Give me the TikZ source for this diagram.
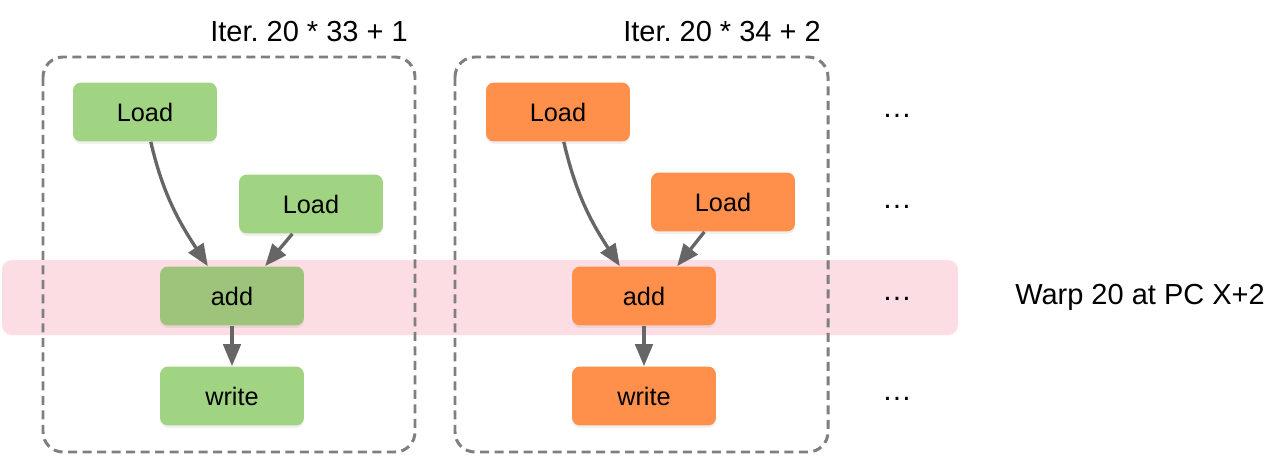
\documentclass[tikz,border=0pt]{standalone}
\usepackage{fontspec}
\setmainfont{Liberation Sans}
\usetikzlibrary{arrows.meta, positioning, shadows}
\definecolor{opgreen}{HTML}{A0D483}
\definecolor{addgreen}{HTML}{9DC47A}
\definecolor{oporange}{HTML}{FF904B}
\definecolor{warppink}{HTML}{FBDDE3}
\definecolor{dashgray}{HTML}{7F7F7F}
\definecolor{arrowgray}{HTML}{666666}
\frenchspacing

\begin{document}
\begin{tikzpicture}[x=0.02cm, y=-0.02cm,
    op/.style={rectangle, rounded corners=0.16cm, minimum width=2.88cm, minimum height=1.18cm, align=center, font=\fontsize{14.4}{17}\selectfont,
        drop shadow={opacity=0.12, shadow xshift=0cm, shadow yshift=-0.05cm}},
    greenop/.style={op, fill=opgreen},
    orangeop/.style={op, fill=oporange},
    iterbox/.style={draw=dashgray, line width=1.7pt, rounded corners=0.4cm, dash pattern=on 0.18cm off 0.11cm},
    label/.style={font=\fontsize{16.5}{19}\selectfont},
    dots/.style={font=\fontsize{17}{19}\selectfont},
    arrow/.style={-{Triangle[length=0.44cm, width=0.35cm]}, draw=arrowgray, line width=1.9pt}
]
\useasboundingbox (0,0) rectangle (1278,456);

% warp band
\fill[warppink, rounded corners=0.2cm] (2,260) rectangle (958,335);

% iteration boxes
\draw[iterbox] (43,57) rectangle (415,452);
\draw[iterbox] (455,57) rectangle (828,452);
\node[label] (iterA) at (309,32) {Iter. 20 * 33 + 1};
\node[label] (iterB) at (722,32) {Iter. 20 * 34 + 2};

% left iteration
\node[greenop] (loadA1) at (145,112) {Load};
\node[greenop] (loadA2) at (311,204) {Load};
\node[op, fill=addgreen] (addA) at (232,296) {add};
\node[greenop] (writeA) at (232,396) {write};

% right iteration
\node[orangeop] (loadB1) at (558,112) {Load};
\node[orangeop] (loadB2) at (723,202) {Load};
\node[orangeop] (addB) at (644,296) {add};
\node[orangeop] (writeB) at (644,396) {write};

\draw[arrow] (loadA1.-79) to[out=-77, in=123] (addA.129);
\draw[arrow] (loadA2.-122) -- (addA.42);
\draw[arrow] (addA) -- (writeA);

\draw[arrow] (loadB1.-79) to[out=-77, in=123] (addB.129);
\draw[arrow] (loadB2.-122) -- (addB.42);
\draw[arrow] (addB) -- (writeB);

% other warps
\node[dots] (dotsA) at (897,116) {…};
\node[dots] (dotsB) at (897,207) {…};
\node[dots] (dotsC) at (897,299) {…};
\node[dots] (dotsD) at (897,399) {…};

\node[label] (warp) at (1140,297) {Warp 20 at PC X+2};
\end{tikzpicture}
\end{document}
